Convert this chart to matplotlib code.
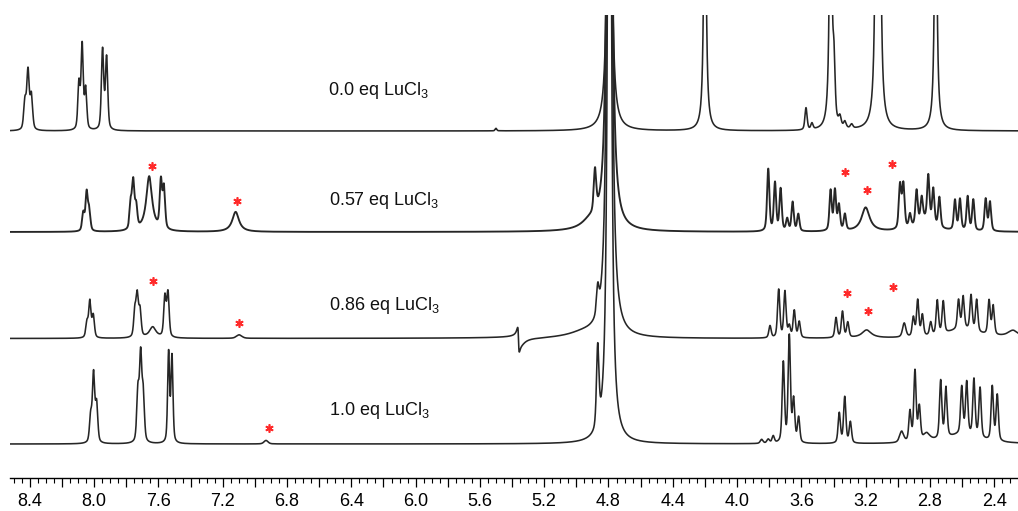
import numpy as np
import matplotlib
matplotlib.use('Agg')
import matplotlib.pyplot as plt
from matplotlib.ticker import MultipleLocator, FuncFormatter

plt.rcParams['font.family'] = ['Liberation Sans', 'DejaVu Sans']
plt.rcParams['mathtext.fontset'] = 'custom'
plt.rcParams['mathtext.rm'] = 'Liberation Sans'
plt.rcParams['mathtext.it'] = 'Liberation Sans:italic'

# ---------------- data (peak lists) ----------------
labels = ['0.0 eq LuCl$_3$', '0.57 eq LuCl$_3$', '0.86 eq LuCl$_3$', '1.0 eq LuCl$_3$']
offsets = [348, 247, 140.5, 35]          # baseline of each trace
label_ppm = [6.546, 6.539, 6.539, 6.540]
label_y = [389, 279, 174, 69]

s1_ppm = [8.431, 8.412, 8.391, 8.095, 8.075, 8.053, 7.948, 7.923, 5.500, 4.794,
          4.200, 3.571, 3.534, 3.418, 3.397, 3.360, 3.329, 3.287, 3.132, 3.114, 2.764]
s1_h = [28, 58, 34, 46, 84, 40, 80, 72, 2.5, 800,
        350, 22, 6, 350, 50, 9, 6, 4, 414, 414, 350]
s1_w = [0.009, 0.009, 0.009, 0.008, 0.008, 0.008, 0.0085, 0.0085, 0.006, 0.0093,
        0.0075, 0.008, 0.008, 0.0075, 0.008, 0.009, 0.009, 0.009, 0.0075, 0.0075, 0.0075]

s2_ppm = [8.068, 8.047, 8.031, 7.773, 7.757, 7.739, 7.658, 7.585, 7.566, 7.120,
          4.915, 4.884, 4.794, 3.806, 3.764, 3.729, 3.688, 3.654, 3.619, 3.418,
          3.391, 3.366, 3.329, 3.200, 2.986, 2.965, 2.924, 2.883, 2.851, 2.810,
          2.779, 2.741, 2.830, 2.644, 2.613, 2.565, 2.530, 2.453, 2.426]
s2_h = [18, 38, 20, 26, 46, 22, 55, 47, 41, 20,
        8, 42, 1556, 62, 48, 42, 12, 29, 17, 40,
        40, 25, 16, 24, 44, 44, 13, 34, 23, 45,
        35, 30, 12, 30, 31, 34, 31, 32, 29]
s2_w = [0.0085, 0.0085, 0.0085, 0.0085, 0.0085, 0.0085, 0.022, 0.0085, 0.0085, 0.025,
        0.062, 0.009, 0.0093, 0.0085, 0.0085, 0.0085, 0.0085, 0.0085, 0.0085, 0.0085,
        0.0085, 0.0085, 0.0085, 0.03, 0.009, 0.009, 0.0085, 0.0085, 0.0085, 0.0085,
        0.0085, 0.0085, 0.06, 0.0085, 0.0085, 0.0085, 0.0085, 0.0085, 0.0085]

s3_ppm = [8.045, 8.027, 8.006, 7.747, 7.732, 7.715, 7.636, 7.560, 7.541, 7.098,
          5.340, 4.950, 4.867, 4.794, 3.795, 3.741, 3.702, 3.675, 3.644, 3.613,
          3.384, 3.344, 3.311, 3.194, 2.960, 2.903, 2.876, 2.847, 2.795, 2.754,
          2.717, 2.622, 2.593, 2.544, 2.509, 2.432, 2.406, 2.600, 2.283]
s3_h = [15, 36, 22, 26, 40, 26, 11, 40, 44, 3.5,
        -3, 5, 26, 1689, 12, 48, 46, 11, 27, 16,
        20, 26, 15, 8, 14, 19, 36, 21, 13, 34,
        32, 29, 32, 35, 32, 34, 29, 9, 7]
s3_w = [0.0085, 0.0085, 0.0085, 0.0085, 0.0085, 0.0085, 0.025, 0.0085, 0.0085, 0.02,
        0.03, 0.12, 0.009, 0.0093, 0.0085, 0.0085, 0.0085, 0.0085, 0.0085, 0.0085,
        0.0085, 0.0085, 0.0085, 0.035, 0.012, 0.0085, 0.0085, 0.0085, 0.0085, 0.0085,
        0.0085, 0.0085, 0.0085, 0.0085, 0.0085, 0.0085, 0.0085, 0.12, 0.04]
s3_disp_ppm = [5.360]
s3_disp_amp = [12]
s3_disp_w = [0.005]

s4_ppm = [8.022, 8.004, 7.985, 7.728, 7.711, 7.695, 7.537, 7.516, 6.931, 4.867,
          4.794, 3.847, 3.806, 3.775, 3.712, 3.675, 3.648, 3.617, 3.364, 3.330,
          3.295, 2.976, 2.924, 2.893, 2.866, 2.820, 2.733, 2.700, 2.602, 2.571,
          2.526, 2.488, 2.412, 2.381, 2.600]
s4_h = [26, 68, 38, 50, 84, 46, 90, 86, 3.5, 80,
        1333, 4, 4, 7, 80, 106, 42, 25, 30, 46,
        21, 11, 30, 70, 33, 8, 58, 50, 47, 52,
        57, 50, 54, 46, 9]
s4_w = [0.0085, 0.0085, 0.0085, 0.0085, 0.0085, 0.0085, 0.0072, 0.0072, 0.015, 0.009,
        0.0093, 0.01, 0.01, 0.0085, 0.0085, 0.0085, 0.0085, 0.0085, 0.0085, 0.0085,
        0.0085, 0.015, 0.0085, 0.0085, 0.0085, 0.025, 0.0085, 0.0085, 0.0085, 0.0085,
        0.0085, 0.0085, 0.0085, 0.0085, 0.12]

star_ppm = [7.643, 7.112, 3.329, 3.193, 3.038,
            7.636, 7.098, 3.318, 3.184, 3.028,
            6.915]
star_y = [313, 278, 307, 289, 315,
          198, 156, 186, 168, 192,
          51]

tick_labels_step = 0.4
# -------------------------------------------------------------------------

XMAX, XMIN = 8.524, 2.252
grid = np.linspace(XMIN, XMAX, 8000)


def spectrum(ppm, h, w, disp_ppm=(), disp_amp=(), disp_w=()):
    y = np.zeros_like(grid)
    for p, a, ww in zip(ppm, h, w):
        d = grid - p
        lor = ww ** 2 / (d ** 2 + ww ** 2)
        gau = np.exp(-np.log(2) * (d / ww) ** 2)
        eta = 1.0 if (abs(a) > 300 or ww > 0.02) else 0.45
        y += a * (eta * lor + (1 - eta) * gau)
    for p, a, ww in zip(disp_ppm, disp_amp, disp_w):
        d = grid - p
        y += a * 2 * ww * d / (d ** 2 + ww ** 2)
    return y


traces = [
    spectrum(s1_ppm, s1_h, s1_w),
    spectrum(s2_ppm, s2_h, s2_w),
    spectrum(s3_ppm, s3_h, s3_w, s3_disp_ppm, s3_disp_amp, s3_disp_w),
    spectrum(s4_ppm, s4_h, s4_w),
]

fig = plt.figure(figsize=(10.18, 5.11), dpi=100)
ax = fig.add_axes([10 / 1018, 33 / 511, 1008 / 1018, 463 / 511])

for tr, off, lw in zip(traces, offsets, [1.15, 1.35, 1.15, 1.15]):
    ax.plot(grid, tr + off, color='#262626', lw=lw, solid_joinstyle='round')

for lab, lx, ly in zip(labels, label_ppm, label_y):
    ax.text(lx, ly, lab, ha='left', va='center', fontsize=13, color='#111111')

ax.plot(star_ppm, star_y, linestyle='none', marker=(6, 2, 0), ms=6, mew=1.2,
        color='#ff2a2a')

ax.set_xlim(XMAX, XMIN)
ax.set_ylim(1, 464)
for s in ['left', 'right', 'top']:
    ax.spines[s].set_visible(False)
ax.spines['bottom'].set_linewidth(1.0)
ax.set_yticks([])
ax.xaxis.set_major_locator(MultipleLocator(0.2))
ax.xaxis.set_minor_locator(MultipleLocator(0.05))


def fmt(v, pos):
    k = v / tick_labels_step
    return f'{v:.1f}' if abs(k - round(k)) < 1e-6 else ''


ax.xaxis.set_major_formatter(FuncFormatter(fmt))
ax.tick_params(axis='x', which='major', length=6.5, width=0.9, labelsize=13, pad=4.5)
ax.tick_params(axis='x', which='minor', length=3.5, width=0.8)

fig.savefig('out.png', dpi=100)
